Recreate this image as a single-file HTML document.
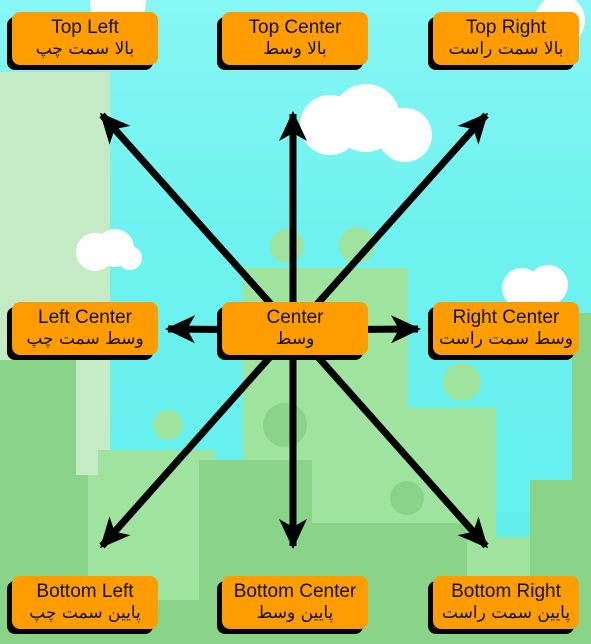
<!DOCTYPE html>
<html><head><meta charset="utf-8"><style>
body{margin:0;width:591px;height:644px;overflow:hidden;position:relative;font-family:"Liberation Sans","DejaVu Sans",sans-serif}
svg{position:absolute;left:0;top:0}
.b{position:absolute;width:146px;height:53px;background:#ff9d00;border-radius:8px;box-shadow:-5px 5px 0 #000;text-align:center;color:#111}
.b .e{font-size:19px;line-height:19px;margin-top:6px}
.b .a{font-family:"DejaVu Sans",sans-serif;font-size:17px;line-height:20px;margin-top:2px;direction:rtl}
</style></head><body>
<svg width="591" height="644">
<defs><linearGradient id="s" x1="0" y1="0" x2="0" y2="1"><stop offset="0" stop-color="#86f7f4"/><stop offset="0.35" stop-color="#6ff2ef"/><stop offset="1" stop-color="#5eefeb"/></linearGradient>
<marker id="m" markerWidth="34" markerHeight="34" refX="27" refY="15" orient="auto" markerUnits="userSpaceOnUse" viewBox="0 0 34 30"><path d="M0,1 L30,15 L0,29 L8,15 Z" fill="#000"/></marker></defs>
<rect width="591" height="644" fill="url(#s)"/>
<rect x="0" y="72" width="110" height="403" fill="#c4ebc4"/>
<g fill="#fff"><circle cx="118" cy="2" r="28"/><circle cx="560" cy="20" r="25"/><circle cx="330" cy="125" r="30"/><circle cx="366" cy="118" r="34"/><circle cx="405" cy="135" r="27"/><circle cx="95" cy="252" r="19"/><circle cx="115" cy="248" r="19"/><circle cx="130" cy="258" r="12"/><circle cx="522" cy="288" r="20"/><circle cx="548" cy="285" r="20"/></g>
<g fill="#9ee49e"><circle cx="287" cy="246" r="17"/><circle cx="357" cy="245" r="18"/><rect x="243" y="268" width="165" height="280"/><rect x="408" y="408" width="88" height="130"/><rect x="88" y="450" width="127" height="150"/><rect x="467" y="537" width="63" height="107"/><circle cx="462" cy="382" r="19"/><circle cx="168" cy="425" r="15"/></g>
<rect x="68" y="380" width="30" height="95" fill="#c4ebc4"/>
<g fill="#89d489"><rect x="0" y="360" width="76" height="284"/><rect x="76" y="475" width="12" height="169"/><rect x="199" y="460" width="113" height="184"/><rect x="312" y="523" width="155" height="121"/><rect x="572" y="313" width="19" height="331"/><rect x="530" y="480" width="61" height="164"/><rect x="0" y="600" width="591" height="44"/><circle cx="285" cy="425" r="22"/><circle cx="407" cy="498" r="17"/></g>
<g stroke="#000" stroke-width="7" marker-end="url(#m)">
<line x1="294" y1="330" x2="102" y2="115"/><line x1="293" y1="330" x2="293" y2="114"/><line x1="294" y1="330" x2="486" y2="115"/>
<line x1="294" y1="330" x2="168" y2="329"/><line x1="294" y1="330" x2="418" y2="329"/>
<line x1="294" y1="330" x2="102" y2="546"/><line x1="293" y1="330" x2="293" y2="546"/><line x1="294" y1="330" x2="486" y2="546"/></g>
</svg>
<div class="b" style="left:12px;top:12px"><div class="e">Top Left</div><div class="a">بالا سمت چپ</div></div>
<div class="b" style="left:222px;top:12px"><div class="e">Top Center</div><div class="a">بالا وسط</div></div>
<div class="b" style="left:433px;top:12px"><div class="e">Top Right</div><div class="a">بالا سمت راست</div></div>
<div class="b" style="left:12px;top:302px"><div class="e">Left Center</div><div class="a">وسط سمت چپ</div></div>
<div class="b" style="left:222px;top:302px"><div class="e">Center</div><div class="a">وسط</div></div>
<div class="b" style="left:433px;top:302px"><div class="e">Right Center</div><div class="a">وسط سمت راست</div></div>
<div class="b" style="left:12px;top:576px"><div class="e">Bottom Left</div><div class="a">پایین سمت چپ</div></div>
<div class="b" style="left:222px;top:576px"><div class="e">Bottom Center</div><div class="a">پایین وسط</div></div>
<div class="b" style="left:433px;top:576px"><div class="e">Bottom Right</div><div class="a">پایین سمت راست</div></div>
</body></html>
